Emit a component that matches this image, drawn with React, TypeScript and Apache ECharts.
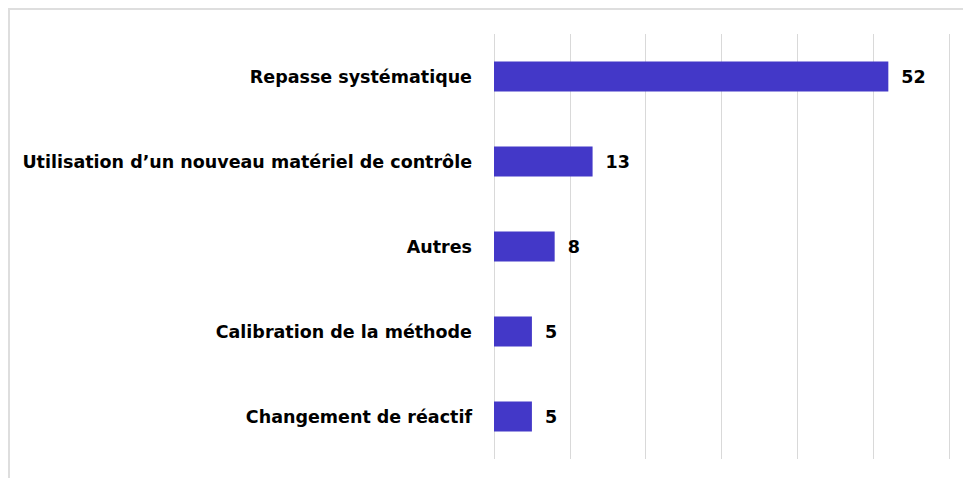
import React, { useEffect, useRef } from "react";
import * as echarts from "echarts";

const categories = [
  "Repasse systématique",
  "Utilisation d’un nouveau matériel de contrôle",
  "Autres",
  "Calibration de la méthode",
  "Changement de réactif",
];
const values = [52, 13, 8, 5, 5];
const axisMax = 60;
const axisInterval = 10;

const FONT = "DejaVu Sans";

export default function App() {
  const ref = useRef<HTMLDivElement>(null);
  useEffect(() => {
    document.body.style.margin = "0";
    const chart = echarts.init(ref.current!, null, { renderer: "svg" });
    chart.setOption({
      animation: false,
      backgroundColor: "#ffffff",
      graphic: [
        {
          type: "rect",
          shape: { x: 9, y: 9, width: 1200, height: 1200 },
          style: { fill: "none", stroke: "#dedede", lineWidth: 2 },
          silent: true,
        },
      ],
      grid: { left: 494, right: 14, top: 34, bottom: 19, containLabel: false },
      xAxis: {
        type: "value",
        min: 0,
        max: axisMax,
        interval: axisInterval,
        axisLabel: { show: false },
        axisLine: { show: false },
        axisTick: { show: false },
        splitLine: { show: true, lineStyle: { color: "#d9d9d9", width: 1 } },
      },
      yAxis: {
        type: "category",
        data: categories,
        inverse: true,
        axisLine: { show: false },
        axisTick: { show: false },
        axisLabel: {
          color: "#000000",
          fontFamily: FONT,
          fontWeight: "bold",
          fontSize: 17.5,
          margin: 22,
        },
      },
      series: [
        {
          type: "bar",
          data: values,
          barWidth: 30,
          itemStyle: { color: "#4338c8" },
          label: {
            show: true,
            position: "right",
            distance: 13,
            color: "#000000",
            fontFamily: FONT,
            fontWeight: "bold",
            fontSize: 17.5,
          },
        },
      ],
    });
    return () => chart.dispose();
  }, []);
  return <div ref={ref} style={{ width: 963, height: 478 }} />;
}
